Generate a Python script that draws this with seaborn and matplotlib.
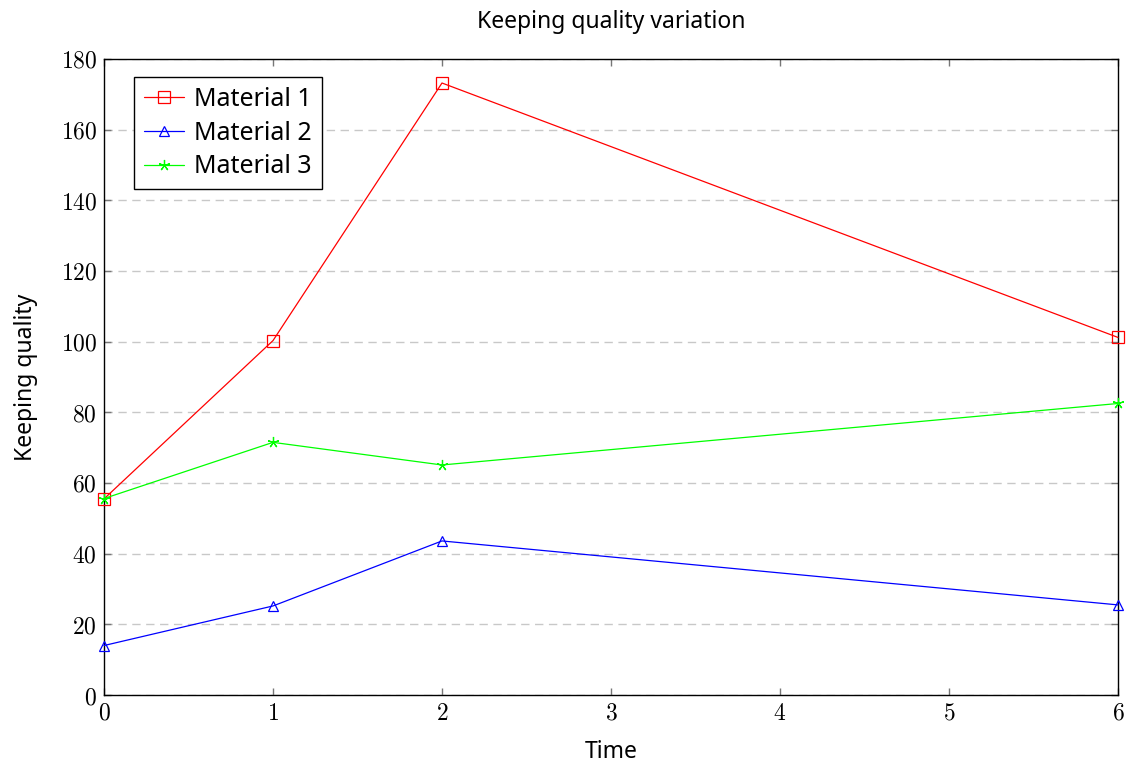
import pandas as pd
import seaborn as sns
import matplotlib.pyplot as plt
from matplotlib.ticker import FuncFormatter, MultipleLocator

time = [0, 1, 2, 6]
material_1 = [55.5, 100.3, 173.2, 101.2]
material_2 = [14.0, 25.2, 43.6, 25.5]
material_3 = [55.6, 71.5, 65.1, 82.5]

nombres = ['Material 1', 'Material 2', 'Material 3']
colores = {'Material 1': '#ff0000', 'Material 2': '#0000ff', 'Material 3': '#00ff00'}
marcadores = {'Material 1': 's', 'Material 2': '^', 'Material 3': (5, 2, 0)}
tamanos = {'Material 1': 8, 'Material 2': 7, 'Material 3': 8}

df = pd.DataFrame({
    'Time': time * 3,
    'Keeping quality': material_1 + material_2 + material_3,
    'Material': [n for n in nombres for _ in time],
})

sns.set_style('white')
plt.rcParams['font.family'] = ['Noto Sans', 'DejaVu Sans']
plt.rcParams['mathtext.fontset'] = 'cm'
plt.rcParams['text.color'] = 'black'
plt.rcParams['axes.labelcolor'] = 'black'
plt.rcParams['xtick.color'] = 'black'
plt.rcParams['ytick.color'] = 'black'

fig = plt.figure(figsize=(11.28, 7.65), dpi=100)
ax = fig.add_axes([0.0922, 0.0915, 0.8989, 0.8314])

for nombre in nombres:
    sns.lineplot(
        data=df[df['Material'] == nombre],
        x='Time', y='Keeping quality',
        color=colores[nombre],
        marker=marcadores[nombre],
        markersize=tamanos[nombre],
        markerfacecolor='none',
        markeredgecolor=colores[nombre],
        markeredgewidth=0.9,
        linewidth=0.9,
        label=nombre,
        clip_on=False,
        zorder=3,
        ax=ax,
    )

ax.set_xlim(0, 6)
ax.set_ylim(0, 180)
ax.xaxis.set_major_locator(MultipleLocator(1))
ax.yaxis.set_major_locator(MultipleLocator(20))
fmt = FuncFormatter(lambda v, p: f'${v:.0f}$')
ax.xaxis.set_major_formatter(fmt)
ax.yaxis.set_major_formatter(fmt)

ax.yaxis.grid(True, linestyle=(0, (6, 4)), color='#c8c8c8', linewidth=1)
ax.xaxis.grid(False)
ax.tick_params(axis='both', direction='in', length=5, width=1, color='#777777',
               labelcolor='black',
               top=True, right=True, bottom=True, left=True, labelsize=17, pad=5)
for s in ax.spines.values():
    s.set_color('black')
    s.set_linewidth(1)
    s.set_visible(True)

ax.set_title('Keeping quality variation', fontsize=16.5, pad=22)
ax.set_xlabel('Time', fontsize=16.5, labelpad=10)
ax.set_ylabel('Keeping quality', fontsize=16.5, labelpad=16)

leg = ax.legend(loc='upper left', bbox_to_anchor=(0.03, 0.972), fontsize=18,
                frameon=True, fancybox=False, edgecolor='black', framealpha=1,
                handlelength=1.6, handletextpad=0.4, borderpad=0.4, labelspacing=0.35,
                borderaxespad=0)
leg.get_frame().set_linewidth(1)

fig.savefig('out.png', dpi=100)
